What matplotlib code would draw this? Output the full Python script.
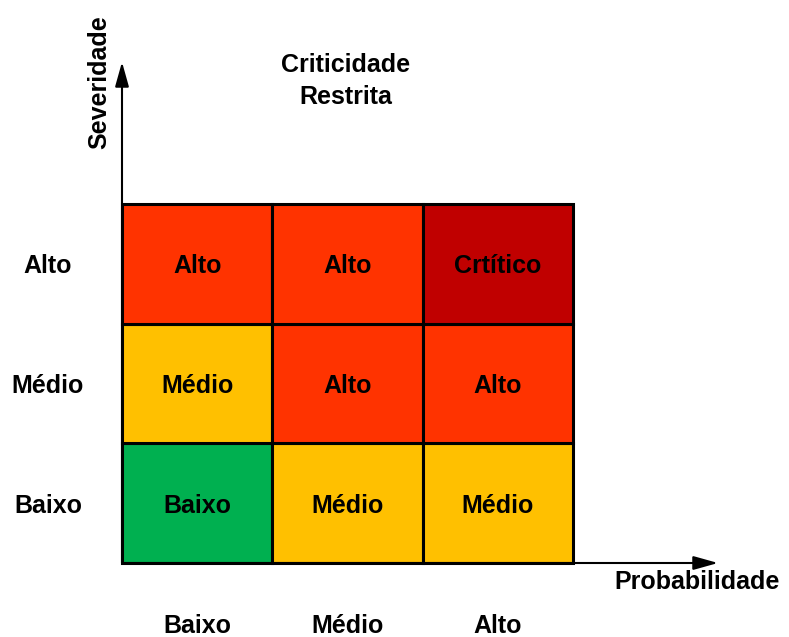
import matplotlib
matplotlib.use("Agg")
import matplotlib.pyplot as plt
from matplotlib.patches import Rectangle

plt.rcParams['font.family'] = ['Liberation Sans', 'DejaVu Sans']

prob_labels = ["Baixo", "Médio", "Alto"]
sev_labels = ["Baixo", "Médio", "Alto"]
# cells[row][col], row 0 = Baixo severity
cell_text = [["Baixo", "Médio", "Médio"],
             ["Médio", "Alto", "Alto"],
             ["Alto", "Alto", "Crtítico"]]
level_colors = {"Baixo": "#00B050", "Médio": "#FFC000", "Alto": "#FF3300", "Crtítico": "#C00000"}

W, H = 789, 637
fig = plt.figure(figsize=(W / 100, H / 100), dpi=100)
x0, x1, y0, y1 = 122, 573, 204, 563
ax = fig.add_axes([x0 / W, (H - y1) / H, (x1 - x0) / W, (y1 - y0) / H])
ax.set_xlim(0, 3)
ax.set_ylim(0, 3)
ax.axis('off')

fs = 18
dy = 2.5  # px shift down for vertical centring
cw = (x1 - x0) / 3
ch = (y1 - y0) / 3
for r in range(3):
    for c in range(3):
        t = cell_text[r][c]
        ax.add_patch(Rectangle((c, r), 1, 1, facecolor=level_colors[t],
                               edgecolor='black', linewidth=2.2, clip_on=False))
        ax.text(c + 0.5, r + 0.5 - dy / ch, t, ha='center', va='center',
                fontsize=fs, fontweight='bold', color='black')

# axis arrows
ytip = (y1 - 62) / ch
xtip = (718 - x0) / cw
for xy in [(0, ytip), (xtip, 0)]:
    ax.annotate('', xy=xy, xytext=(0, 0),
                arrowprops=dict(arrowstyle='-|>,head_length=0.5,head_width=0.14', color='black', lw=1.5,
                                mutation_scale=30, shrinkA=0, shrinkB=0),
                annotation_clip=False)

# tick labels
for i, lab in enumerate(sev_labels):
    ax.text((48 - x0) / cw, i + 0.5 - dy / ch, lab, ha='center', va='center',
            fontsize=fs, fontweight='bold', clip_on=False)
for i, lab in enumerate(prob_labels):
    ax.text(i + 0.5, -(626 - y1) / ch, lab, ha='center', va='center',
            fontsize=fs, fontweight='bold', clip_on=False)

ax.text((697 - x0) / cw, -(582 - y1) / ch, "Probabilidade", ha='center', va='center',
        fontsize=fs, fontweight='bold', clip_on=False)
ax.text((99 - x0) / cw, (y1 - 82) / ch, "Severidade", ha='center', va='center',
        rotation=90, fontsize=fs, fontweight='bold', clip_on=False)
ax.text((346 - x0) / cw, (y1 - 81) / ch, "Criticidade\nRestrita", ha='center', va='center',
        fontsize=fs, fontweight='bold', clip_on=False, linespacing=1.4)

fig.savefig("out.png", dpi=100)
